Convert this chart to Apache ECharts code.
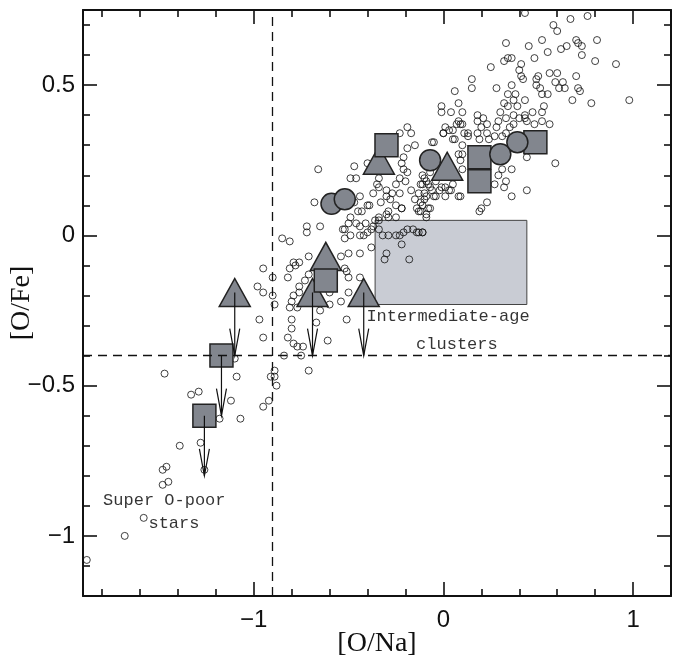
<!DOCTYPE html>
<html>
<head>
<meta charset="utf-8">
<title>[O/Fe] vs [O/Na]</title>
<script src="https://cdn.jsdelivr.net/npm/echarts@6/dist/echarts.min.js"></script>
<style>
  html, body { margin: 0; padding: 0; background: #fff; }
  #main { width: 681px; height: 663px; }
</style>
</head>
<body>
<div id="main"></div>
<script>
// field stars, [O/Na], [O/Fe] (open circles)
var fieldStars = [
  [-1.88,-1.08],[-1.68,-1.00],[-1.58,-0.94],[-1.48,-0.83],[-1.45,-0.82],[-1.48,-0.78],[-1.46,-0.77],
  [-1.39,-0.70],[-1.28,-0.69],[-1.26,-0.78],[-1.18,-0.61],[-1.07,-0.61],[-1.12,-0.55],[-1.33,-0.53],
  [-1.29,-0.52],[-1.47,-0.46],[-1.09,-0.47],[-1.10,-0.41],[-0.95,-0.57],[-0.92,-0.55],[-0.91,-0.47],
  [-0.89,-0.47],[-0.89,-0.45],[-0.88,-0.50],[-0.97,-0.28],[-0.95,-0.34],[-0.98,-0.17],[-0.95,-0.19],
  [-0.90,-0.20],[-0.89,-0.23],[-0.90,-0.14],[-0.95,-0.11],[-0.78,-0.10],[-0.71,-0.07],[-0.80,-0.31],
  [-0.79,-0.36],[-0.74,-0.37],[-0.73,-0.15],[-0.76,-0.19],
  [-0.19,0.36],[-0.17,0.34],[-0.23,0.34],[-0.19,0.29],[-0.15,0.30],[-0.06,0.31],[0.00,0.34],[0.03,0.35],
  [0.06,0.32],[0.09,0.37],[0.11,0.34],[-0.21,0.26],[-0.22,0.24],[-0.21,0.22],[-0.19,0.21],[-0.20,0.18],
  [-0.23,0.19],[-0.25,0.17],[-0.17,0.15],[-0.13,0.14],[-0.15,0.12],[-0.12,0.11],[-0.09,0.13],[-0.02,0.15],
  [0.04,0.15],[0.05,0.17],[-0.04,0.18],[-0.09,0.18],[-0.12,0.17],[-0.11,0.20],[-0.07,0.21],[-0.14,0.09],
  [-0.13,0.08],[-0.08,0.09],[-0.09,0.06],[-0.04,0.13],[0.01,0.13],[0.08,0.13],[-0.28,0.12],[-0.25,0.10],
  [-0.22,0.09],[-0.29,0.08],[-0.30,0.07],[-0.33,0.11],[-0.34,0.05],[-0.30,0.13],[-0.35,0.17],[-0.34,0.19],
  [-0.37,0.14],[-0.39,0.10],[-0.40,0.10],[-0.43,0.08],[-0.44,0.13],[-0.47,0.11],[-0.49,0.19],[-0.46,0.19],
  [-0.47,0.23],[-0.40,0.24],[-0.45,0.08],[-0.49,0.06],[-0.52,0.02],[-0.49,0.00],[-0.52,-0.01],[-0.44,0.00],
  [-0.42,0.00],[-0.40,0.01],[-0.37,0.03],[-0.34,0.02],[-0.32,0.00],[-0.29,0.00],[-0.25,0.00],[-0.23,0.00],
  [-0.21,0.01],[-0.19,0.02],[-0.16,0.02],[-0.14,0.01],[-0.13,0.01],[-0.11,0.01],[-0.22,-0.03],[-0.30,-0.06],
  [-0.31,-0.08],[-0.18,-0.08],[-0.29,0.06],[-0.25,0.06],[-0.38,-0.04],[-0.44,-0.06],[-0.50,-0.06],[-0.54,-0.07],
  [-0.52,-0.11],[-0.50,-0.14],[-0.51,-0.12],[-0.44,-0.14],[-0.50,-0.19],[-0.54,-0.22],[-0.60,-0.19],[-0.59,-0.14],
  [-0.71,-0.13],[-0.76,-0.09],[-0.79,-0.09],[-0.81,-0.11],[-0.82,-0.14],[-0.79,-0.20],[-0.76,-0.17],[-0.80,-0.22],
  [-0.81,-0.24],[-0.77,-0.24],[-0.65,-0.25],[-0.60,-0.23],[-0.67,-0.29],[-0.80,-0.28],[-0.82,-0.34],[-0.77,-0.37],
  [-0.61,-0.35],[-0.51,-0.28],[-0.71,-0.45],[-0.84,-0.40],[-0.75,-0.40],[-0.85,-0.01],[-0.81,-0.02],[-0.72,0.03],
  [-0.72,0.01],[-0.65,0.03],[-0.68,0.11],[-0.66,0.22],[-0.53,0.02],[-0.50,0.04],[-0.46,0.04],[-0.41,0.04],
  [-0.44,0.03],[-0.38,0.02],[-0.34,0.16],[-0.30,0.15],[-0.27,0.14],[-0.23,0.14],[-0.22,0.09],[-0.34,0.06],
  [-0.36,0.05],
  [0.25,0.56],[0.15,0.52],[0.15,0.49],[0.06,0.48],[0.28,0.49],[0.08,0.44],[-0.01,0.43],[-0.01,0.41],
  [0.04,0.41],[0.10,0.41],[0.30,0.41],[0.18,0.40],[0.21,0.39],[0.29,0.38],[0.08,0.38],[0.07,0.37],
  [0.10,0.37],[0.18,0.38],[0.20,0.36],[0.23,0.37],[0.28,0.36],[0.01,0.36],[0.00,0.34],[0.05,0.35],
  [0.13,0.34],[0.18,0.34],[0.23,0.34],[0.27,0.33],[0.13,0.33],[0.19,0.32],[0.24,0.32],[-0.05,0.31],
  [0.05,0.32],[0.10,0.30],[0.08,0.27],[0.10,0.27],[0.09,0.25],[0.10,0.22],[0.31,0.22],[0.36,0.22],
  [0.29,0.20],[0.33,0.18],[0.32,0.16],[0.27,0.17],[0.36,0.13],[0.44,0.15],[0.44,0.26],[0.59,0.24],
  [0.09,0.13],[0.23,0.11],[0.20,0.09],[0.19,0.08],[-0.10,0.19],[-0.08,0.17],[-0.11,0.17],[-0.07,0.16],
  [-0.10,0.14],[-0.06,0.15],[-0.01,0.16],[0.01,0.16],[0.03,0.15],[-0.05,0.13],[-0.10,0.12],[-0.11,0.10],
  [-0.07,0.09],[-0.09,0.07],[-0.12,0.08],[-0.11,0.01],
  [0.43,0.74],[0.58,0.70],[0.60,0.68],[0.67,0.72],[0.76,0.73],[0.33,0.64],[0.45,0.63],[0.52,0.65],
  [0.55,0.61],[0.62,0.62],[0.65,0.63],[0.70,0.65],[0.71,0.64],[0.73,0.63],[0.81,0.65],[0.73,0.60],
  [0.80,0.58],[0.91,0.57],[0.48,0.59],[0.34,0.59],[0.36,0.59],[0.32,0.58],[0.41,0.57],[0.40,0.55],
  [0.41,0.53],[0.42,0.52],[0.56,0.54],[0.60,0.54],[0.70,0.53],[0.49,0.52],[0.50,0.53],[0.49,0.50],
  [0.51,0.49],[0.52,0.47],[0.55,0.47],[0.59,0.51],[0.63,0.51],[0.61,0.49],[0.64,0.49],[0.71,0.49],
  [0.72,0.48],[0.68,0.45],[0.78,0.44],[0.98,0.45],[0.36,0.50],[0.34,0.47],[0.38,0.47],[0.43,0.45],
  [0.37,0.45],[0.32,0.44],[0.34,0.43],[0.39,0.43],[0.47,0.41],[0.53,0.43],[0.52,0.41],[0.43,0.40],
  [0.40,0.39],[0.37,0.40],[0.33,0.39],[0.43,0.39],[0.44,0.38],[0.52,0.38],[0.48,0.37],[0.56,0.37],
  [0.37,0.37],[0.35,0.36],[0.33,0.34],[0.31,0.33]
];

// cluster means (filled symbols)
var triangles = [[-1.10,-0.19],[-0.69,-0.19],[-0.42,-0.19],[-0.62,-0.07],[-0.34,0.25],[0.02,0.23]];
var squares = [[-1.17,-0.40],[-1.26,-0.60],[-0.62,-0.15],[-0.30,0.30],[0.19,0.26],[0.19,0.18],[0.485,0.31]];
var circles = [[-0.59,0.105],[-0.52,0.12],[-0.07,0.25],[0.30,0.27],[0.39,0.31]];

// upper limits: [O/Na], [O/Fe] from, [O/Fe] to
var limits = [[-1.10,-0.19,-0.40],[-0.69,-0.19,-0.40],[-0.42,-0.19,-0.40],[-1.17,-0.40,-0.60],[-1.26,-0.60,-0.80]];

// intermediate-age clusters box: x0, yTop, x1, yBottom
var iacBox = [[-0.36,0.05,0.44,-0.23]];

var naCut = -0.9;
var feCut = -0.4;

var noteTexts = ['Intermediate-age', 'clusters', 'Super O-poor', 'stars'];
var noteAt = [[-0.406,-0.271],[-0.144,-0.363],[-1.794,-0.882],[-1.555,-0.958]];

var xMajor = [-1, 0, 1];
var xMinor = [-1.8,-1.6,-1.4,-1.2,-0.8,-0.6,-0.4,-0.2,0.2,0.4,0.6,0.8,1.2];
var yMajor = [-1, -0.5, 0, 0.5];
var yMinor = [-1.1,-0.9,-0.8,-0.7,-0.6,-0.4,-0.3,-0.2,-0.1,0.1,0.2,0.3,0.4,0.6,0.7];

var chart = echarts.init(document.getElementById('main'), null, { renderer: 'canvas' });

var ink = '#111';
var fmt = function (v) { return String(v).replace('-', '\u2212'); };

function tickAxis(pos, ticks, len, withLine) {
  return {
    type: 'value',
    position: pos,
    min: pos === 'top' || pos === 'bottom' ? -1.9 : -1.2,
    max: pos === 'top' || pos === 'bottom' ? 1.2 : 0.75,
    axisLine: { show: withLine, onZero: false, lineStyle: { color: ink, width: 2 } },
    axisTick: { show: true, inside: true, length: len, customValues: ticks, lineStyle: { color: ink, width: 1.6 } },
    axisLabel: { show: false },
    splitLine: { show: false }
  };
}

var xMain = tickAxis('bottom', xMajor, 14, true);
xMain.name = '[O/Na]';
xMain.nameLocation = 'middle';
xMain.nameGap = 34;
xMain.nameMoveOverlap = false;
xMain.nameTextStyle = { fontFamily: 'Liberation Serif', fontSize: 28, color: ink };
xMain.axisLabel = { show: true, customValues: xMajor, formatter: fmt, margin: 12,
  fontFamily: 'Liberation Sans', fontSize: 24, color: ink };

var yMain = tickAxis('left', yMajor, 14, true);
yMain.name = '[O/Fe]';
yMain.nameLocation = 'middle';
yMain.nameGap = 47;
yMain.nameMoveOverlap = false;
yMain.nameTextStyle = { fontFamily: 'Liberation Serif', fontSize: 28, color: ink };
yMain.axisLabel = { show: true, customValues: yMajor, formatter: fmt, margin: 8,
  fontFamily: 'Liberation Sans', fontSize: 24, color: ink };

var option = {
  backgroundColor: '#fff',
  animation: false,
  grid: { left: 83, right: 10, top: 10, bottom: 67, containLabel: false, outerBoundsMode: 'none' },
  xAxis: [
    xMain,
    tickAxis('bottom', xMinor, 7, false),
    tickAxis('top', xMajor, 14, true),
    tickAxis('top', xMinor, 7, false)
  ],
  yAxis: [
    yMain,
    tickAxis('left', yMinor, 7, false),
    tickAxis('right', yMajor, 14, true),
    tickAxis('right', yMinor, 7, false)
  ],
  series: [
    {
      // shaded box + cut lines
      type: 'custom',
      name: 'box',
      z: 1,
      silent: true,
      data: iacBox,
      encode: { x: [0, 2], y: [1, 3] },
      renderItem: function (params, api) {
        var a = api.coord([api.value(0), api.value(1)]);
        var b = api.coord([api.value(2), api.value(3)]);
        return {
          type: 'rect',
          shape: { x: a[0], y: a[1], width: b[0] - a[0], height: b[1] - a[1] },
          style: { fill: '#c9ccd4', stroke: '#444', lineWidth: 1 }
        };
      },
      markLine: {
        silent: true,
        symbol: 'none',
        label: { show: false },
        lineStyle: { color: ink, width: 1.3, type: [9, 6] },
        data: [{ xAxis: naCut }, { yAxis: feCut }]
      }
    },
    {
      type: 'scatter',
      name: 'field',
      z: 2,
      silent: true,
      symbol: 'circle',
      symbolSize: 7,
      itemStyle: { color: 'rgba(0,0,0,0)', borderColor: ink, borderWidth: 1 },
      data: fieldStars
    },
    {
      type: 'scatter',
      name: 'triangles',
      z: 4,
      silent: true,
      symbol: 'triangle',
      symbolSize: [31, 28],
      itemStyle: { color: '#82868e', borderColor: '#222', borderWidth: 1.5, opacity: 1 },
      data: triangles
    },
    {
      type: 'scatter',
      name: 'squares',
      z: 4,
      silent: true,
      symbol: 'rect',
      symbolSize: 23,
      itemStyle: { color: '#82868e', borderColor: '#222', borderWidth: 1.5, opacity: 1 },
      data: squares
    },
    {
      type: 'scatter',
      name: 'circles',
      z: 4,
      silent: true,
      symbol: 'circle',
      symbolSize: 21,
      itemStyle: { color: '#82868e', borderColor: '#222', borderWidth: 1.5, opacity: 1 },
      data: circles
    },
    {
      // upper limit arrows
      type: 'custom',
      name: 'limits',
      z: 5,
      silent: true,
      data: limits,
      encode: { x: 0, y: [1, 2] },
      renderItem: function (params, api) {
        var p0 = api.coord([api.value(0), api.value(1)]);
        var p1 = api.coord([api.value(0), api.value(2)]);
        return {
          type: 'group',
          children: [
            { type: 'line', shape: { x1: p0[0], y1: p0[1], x2: p1[0], y2: p1[1] },
              style: { stroke: ink, lineWidth: 1.2 } },
            { type: 'polyline', shape: { points: [[p1[0] - 5, p1[1] - 27], [p1[0], p1[1]], [p1[0] + 5, p1[1] - 27]] },
              style: { stroke: ink, lineWidth: 1.2, fill: null } }
          ]
        };
      }
    },
    {
      type: 'scatter',
      name: 'notes',
      z: 6,
      silent: true,
      symbolSize: 0,
      data: noteAt.map(function (p, i) { return { name: noteTexts[i], value: p }; }),
      label: {
        show: true,
        position: [0, 0],
        align: 'left',
        verticalAlign: 'middle',
        formatter: '{b}',
        fontFamily: 'Liberation Mono',
        fontSize: 17,
        color: '#000'
      }
    }
  ]
};

chart.setOption(option);
</script>
</body>
</html>
